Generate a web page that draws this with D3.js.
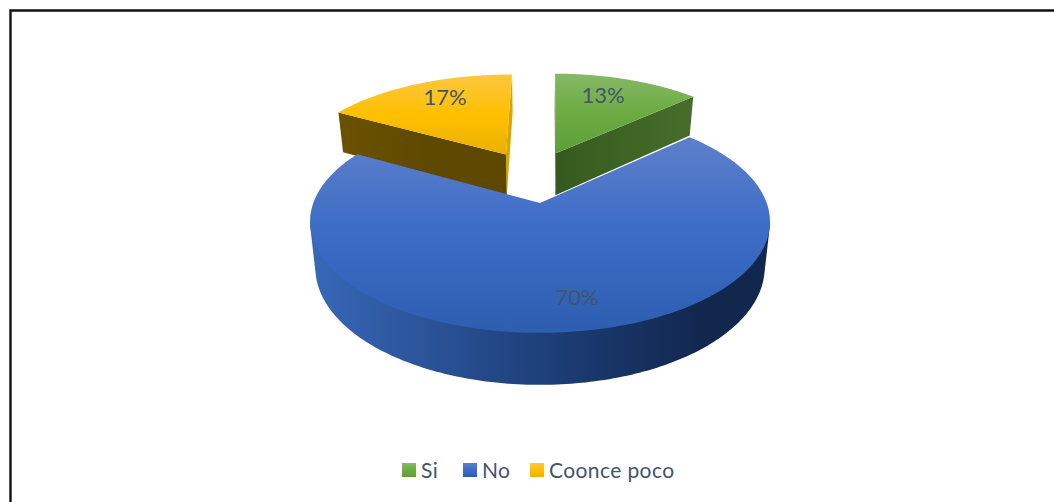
<!DOCTYPE html>
<html>
<head>
<meta charset="utf-8">
<script src="https://cdn.jsdelivr.net/npm/d3@7"></script>
<style>
  html, body { margin: 0; padding: 0; background: #fff; }
  svg { display: block; }
  text { font-family: Lato, "Open Sans", sans-serif; }
</style>
</head>
<body>
<svg id="chart" width="1054" height="502"></svg>
<script>
// Survey answers, in percent
const categories = ["Si", "No", "Coonce poco"];
const shares = [13, 70, 17];
const shareLabels = ["13%", "70%", "17%"];

// Gradient stops for each slice's top face and its walls
const topStops = [
  ["#86b966", "#6cab42", "#5f9f38"],
  ["#5d80cb", "#3d6cc6", "#2d5eb0"],
  ["#fdc741", "#ffc000", "#e9b000"]
];
const wallStops = [
  ["#355a1f", "#3e6424", "#466e2a"],
  ["#3768b8", "#1c3c74", "#11274e"],
  ["#6b5200", "#5f4800", "#5e4700"]
];

const WIDTH = 1054, HEIGHT = 502;
const svg = d3.select("#chart");
const defs = svg.append("defs");

// Frame around the chart area
svg.append("path")
  .attr("d", `M10.5,${HEIGHT} V10.5 H${WIDTH}`)
  .attr("fill", "none").attr("stroke", "#111").attr("stroke-width", 2.4);

// Ground-plane to screen projection of the tilted disc
const centre = { x: 540, y: 203 };
const tilt = { a: 226.7, b: 108, k: 0.168 };
const project = (u, v) => {
  const w = 1 - tilt.k * v;
  return [centre.x + tilt.a * u / w, centre.y + tilt.b * v / w];
};
// The underside of the disc sits lower and slightly narrower
const drop = ([x, y]) => [
  centre.x + (x - centre.x) * 0.977,
  y + 42 + (y - 154) * 0.056
];

const explode = 0.262;
const turn = 0.008;
const arcs = d3.pie().sort(null).value(d => d)
  .startAngle(turn).endAngle(2 * Math.PI + turn)(shares);
const pivot = (() => {
  const m = (arcs[1].startAngle + arcs[1].endAngle) / 2;
  return [-explode * Math.sin(m), explode * Math.cos(m)];
})();

const line = d3.line();
const slices = arcs.map((arc, i) => {
  const mid = (arc.startAngle + arc.endAngle) / 2;
  const ou = pivot[0] + explode * Math.sin(mid);
  const ov = pivot[1] - explode * Math.cos(mid);
  const angles = d3.range(0, 241).map(t =>
    d3.interpolateNumber(arc.startAngle, arc.endAngle)(t / 240));
  const rim = angles.map(a => project(ou + Math.sin(a), ov - Math.cos(a)));
  return { i, apex: project(ou, ov), rim };
});

function gradient(id, stops, x1, y1, x2, y2, offsets) {
  const g = defs.append("linearGradient").attr("id", id)
    .attr("gradientUnits", "userSpaceOnUse")
    .attr("x1", x1).attr("y1", y1).attr("x2", x2).attr("y2", y2);
  stops.forEach((c, k) => g.append("stop")
    .attr("offset", offsets ? offsets[k] : k / (stops.length - 1))
    .attr("stop-color", c));
  return `url(#${id})`;
}

function drawSlice(s) {
  const { i, apex, rim } = s;
  const first = rim[0], last = rim[rim.length - 1];
  const xs = rim.map(p => p[0]).concat(apex[0]);
  const ys = rim.map(p => p[1]).concat(apex[1]);
  const wallFill = gradient(`wall${i}`, wallStops[i], d3.min(xs), 0, d3.max(xs), 0,
    i === 1 ? [0, 0.55, 0.85] : null);
  const topFill = gradient(`top${i}`, topStops[i], 0, d3.min(ys), 0, d3.max(ys),
    i === 1 ? [0, 0.48, 1] : [0, 0.5, 1]);

  const g = svg.append("g");
  if (i === 1) {
    // Only the large slice shows its curved wall: the stretch of rim
    // between its right-most and left-most points, facing the viewer
    const from = d3.greatestIndex(rim, p => p[0]);
    const to = d3.leastIndex(rim, p => p[0]);
    const front = rim.slice(from, to + 1);
    const hull = d3.polygonHull(front.concat(front.map(drop)));
    g.append("path").attr("fill", wallFill).attr("d", line(hull) + "Z");
  } else {
    // Narrow inner wall, then the broad radial wall
    const inner = i === 2 ? last : first;
    const outer = i === 2 ? first : last;
    g.append("path").attr("fill", i === 2 ? "#d9a600" : "#2f521b")
      .attr("d", line([inner, apex, drop(apex), drop(inner)]) + "Z");
    g.append("path").attr("fill", wallFill)
      .attr("d", line([outer, apex, drop(apex), drop(outer)]) + "Z");
  }
  g.append("path").attr("fill", topFill)
    .attr("d", line([apex].concat(rim)) + "Z");
}

// Back slices first, the large front slice last
drawSlice(slices[0]);
drawSlice(slices[2]);
drawSlice(slices[1]);

// Percentage labels
const labelAt = [[603, 94], [577, 296], [445, 96]];
svg.append("g").selectAll("text").data(shareLabels).join("text")
  .attr("x", (d, i) => labelAt[i][0])
  .attr("y", (d, i) => labelAt[i][1])
  .attr("text-anchor", "middle").attr("dominant-baseline", "central")
  .attr("font-size", 22)
  .attr("fill", "#44546a")
  .text(d => d);

// Legend
const swatchX = [402, 463, 530];
const legend = svg.append("g").selectAll("g").data(categories).join("g")
  .attr("transform", (d, i) => `translate(${swatchX[i]},463)`);
legend.each(function (d, i) {
  const fill = gradient(`key${i}`, topStops[i], 0, 0, 0, 14);
  d3.select(this).append("rect").attr("width", 14).attr("height", 14).attr("fill", fill);
});
legend.append("text")
  .attr("x", 19).attr("y", 6)
  .attr("dominant-baseline", "central")
  .attr("font-size", 21).attr("letter-spacing", 0.4).attr("fill", "#44546a")
  .text(d => d);
</script>
</body>
</html>
